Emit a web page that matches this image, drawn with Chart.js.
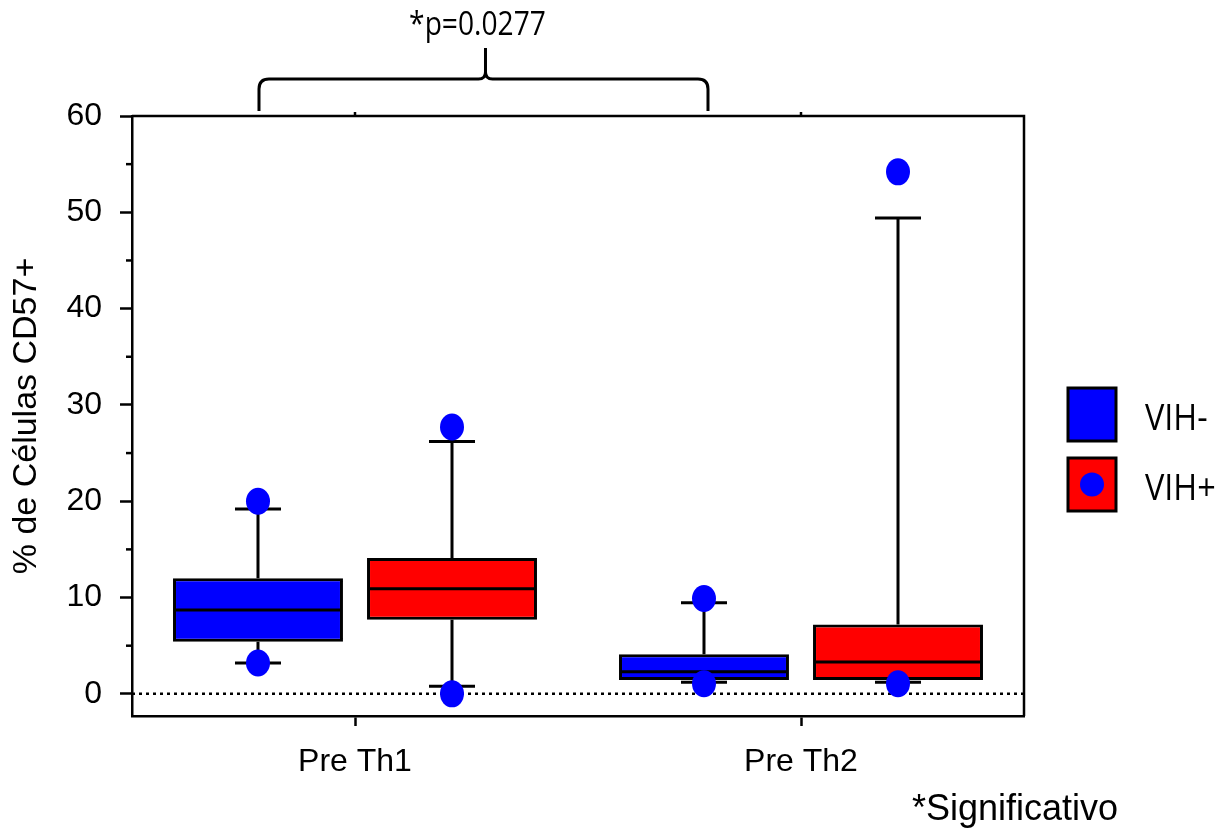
<!DOCTYPE html>
<html>
<head>
<meta charset="utf-8">
<script src="https://cdn.jsdelivr.net/npm/chart.js@4.4.1/dist/chart.umd.min.js"></script>
<style>
  html, body { margin: 0; padding: 0; background: #fff; }
  #wrap { position: relative; width: 1230px; height: 830px; }
</style>
</head>
<body>
<div id="wrap"><canvas id="boxChart" width="1230" height="830"></canvas></div>
<script>
// datos
const categories = ['Pre Th1', 'Pre Th2'];
const groupLabels = ['VIH-', 'VIH+'];

const vihNegMin = [3.2, 1.2];
const vihNegQ1 = [5.4, 1.45];
const vihNegMedian = [8.7, 2.3];
const vihNegQ3 = [12.0, 4.1];
const vihNegMax = [19.2, 9.45];
const vihNegOutliers = [[20.0, 3.2], [9.9, 1.05]];

const vihPosMin = [0.8, 1.2];
const vihPosQ1 = [7.7, 1.45];
const vihPosMedian = [10.9, 3.3];
const vihPosQ3 = [14.1, 7.2];
const vihPosMax = [26.2, 49.4];
const vihPosOutliers = [[27.7, 0], [54.2, 1.05]];

const yTicks = [0, 10, 20, 30, 40, 50, 60];
const yMinorTicks = [5, 15, 25, 35, 45, 55];
const pValueText = '*p=0.0277';
const footnoteText = '*Significativo';

const stats = [
  { min: vihNegMin, median: vihNegMedian, max: vihNegMax, outliers: vihNegOutliers },
  { min: vihPosMin, median: vihPosMedian, max: vihPosMax, outliers: vihPosOutliers }
];

const BLUE = '#0000ff';
const RED = '#ff0000';
const ARIAL = '"Liberation Sans", Arial, sans-serif';

// texto con compresión horizontal (como en la imagen original)
function squeezedText(ctx, text, x, y, sx, align) {
  ctx.save();
  ctx.translate(x, y);
  ctx.scale(sx, 1);
  ctx.textAlign = align;
  ctx.fillText(text, 0, 0);
  ctx.restore();
}

const boxPlugin = {
  id: 'boxWhiskers',
  beforeDatasetsDraw(chart) {
    const { ctx, chartArea, scales: { y } } = chart;
    ctx.save();
    // linea punteada en cero
    ctx.strokeStyle = '#000';
    ctx.lineWidth = 2.5;
    ctx.setLineDash([3, 4]);
    ctx.beginPath();
    ctx.moveTo(chartArea.left, y.getPixelForValue(0));
    ctx.lineTo(chartArea.right, y.getPixelForValue(0));
    ctx.stroke();
    ctx.setLineDash([]);

    // bigotes
    ctx.lineWidth = 3;
    stats.forEach((s, i) => {
      chart.getDatasetMeta(i).data.forEach((bar, j) => {
        const x = bar.x;
        const top = y.getPixelForValue(chart.data.datasets[i].data[j][1]);
        const bottom = y.getPixelForValue(chart.data.datasets[i].data[j][0]);
        const yMax = y.getPixelForValue(s.max[j]);
        const yMin = y.getPixelForValue(s.min[j]);
        const cap = 23;
        ctx.beginPath();
        ctx.moveTo(x, top); ctx.lineTo(x, yMax);
        ctx.moveTo(x - cap, yMax); ctx.lineTo(x + cap, yMax);
        ctx.moveTo(x, bottom); ctx.lineTo(x, yMin);
        ctx.moveTo(x - cap, yMin); ctx.lineTo(x + cap, yMin);
        ctx.stroke();
      });
    });
    ctx.restore();
  },
  afterDatasetsDraw(chart) {
    const { ctx, scales: { y } } = chart;
    ctx.save();
    stats.forEach((s, i) => {
      chart.getDatasetMeta(i).data.forEach((bar, j) => {
        const hw = bar.width / 2;
        const ym = y.getPixelForValue(s.median[j]);
        ctx.strokeStyle = '#000';
        ctx.lineWidth = 3;
        ctx.beginPath();
        ctx.moveTo(bar.x - hw + 1, ym);
        ctx.lineTo(bar.x + hw - 1, ym);
        ctx.stroke();
        ctx.fillStyle = BLUE;
        s.outliers[j].forEach(v => {
          ctx.beginPath();
          ctx.ellipse(bar.x, y.getPixelForValue(v), 12, 13.5, 0, 0, Math.PI * 2);
          ctx.fill();
        });
      });
    });
    ctx.restore();
  },
  afterDraw(chart) {
    const { ctx, chartArea, scales: { x, y } } = chart;
    ctx.save();
    ctx.strokeStyle = '#000';
    ctx.lineWidth = 2.5;
    // marco superior y derecho
    ctx.beginPath();
    ctx.moveTo(chartArea.left, chartArea.top);
    ctx.lineTo(chartArea.right, chartArea.top);
    ctx.lineTo(chartArea.right, chartArea.bottom);
    ctx.stroke();
    // marcas arriba
    categories.forEach((c, i) => {
      const px = x.getPixelForTick(i);
      ctx.beginPath();
      ctx.moveTo(px, chartArea.top - 4);
      ctx.lineTo(px, chartArea.top);
      ctx.stroke();
    });
    // marcas menores eje y
    yMinorTicks.forEach(v => {
      const py = y.getPixelForValue(v);
      ctx.beginPath();
      ctx.moveTo(chartArea.left - 6, py);
      ctx.lineTo(chartArea.left, py);
      ctx.stroke();
    });

    // llave de comparación
    const bars = chart.getDatasetMeta(0).data;
    const x1 = bars[0].x + 1, x2 = bars[1].x + 4, mid = (x1 + x2) / 2 + 2;
    const yb = 79, yEnd = 111, yPeak = 48, r = 10;
    ctx.lineWidth = 3;
    ctx.beginPath();
    ctx.moveTo(x1, yEnd);
    ctx.lineTo(x1, yb + r);
    ctx.quadraticCurveTo(x1, yb, x1 + r, yb);
    ctx.lineTo(mid - 7, yb);
    ctx.quadraticCurveTo(mid, yb, mid, yb - 7);
    ctx.lineTo(mid, yPeak);
    ctx.moveTo(mid, yb - 7);
    ctx.quadraticCurveTo(mid, yb, mid + 7, yb);
    ctx.lineTo(x2 - r, yb);
    ctx.quadraticCurveTo(x2, yb, x2, yb + r);
    ctx.lineTo(x2, yEnd);
    ctx.stroke();

    ctx.fillStyle = '#000';
    ctx.font = '32px "Open Sans", sans-serif';
    ctx.textBaseline = 'alphabetic';
    squeezedText(ctx, pValueText, mid - 8, 35, 0.88, 'center');

    // leyenda
    const lx = 1068, lw = 48, lh = 53;
    const rows = [388, 458];
    [BLUE, RED].forEach((col, i) => {
      ctx.fillStyle = col;
      ctx.fillRect(lx, rows[i], lw, lh);
      ctx.lineWidth = 3;
      ctx.strokeRect(lx, rows[i], lw, lh);
    });
    ctx.fillStyle = BLUE;
    ctx.beginPath();
    ctx.arc(lx + lw / 2, rows[1] + lh / 2, 12, 0, Math.PI * 2);
    ctx.fill();
    ctx.fillStyle = '#000';
    ctx.font = '36px "Open Sans", sans-serif';
    ctx.textBaseline = 'alphabetic';
    groupLabels.forEach((g, i) => squeezedText(ctx, g, 1145, rows[i] + 42, 0.9, 'left'));

    ctx.font = '36px ' + ARIAL;
    ctx.textBaseline = 'alphabetic';
    squeezedText(ctx, footnoteText, 912, 820, 1.0, 'left');
    ctx.restore();
  }
};

new Chart(document.getElementById('boxChart'), {
  type: 'bar',
  data: {
    labels: categories,
    datasets: [
      {
        label: groupLabels[0],
        data: categories.map((c, i) => [vihNegQ1[i], vihNegQ3[i]]),
        backgroundColor: BLUE,
        borderColor: '#000',
        borderWidth: 3,
        borderSkipped: false
      },
      {
        label: groupLabels[1],
        data: categories.map((c, i) => [vihPosQ1[i], vihPosQ3[i]]),
        backgroundColor: RED,
        borderColor: '#000',
        borderWidth: 3,
        borderSkipped: false
      }
    ]
  },
  options: {
    responsive: false,
    animation: false,
    categoryPercentage: 0.87,
    barPercentage: 0.876,
    layout: { padding: { left: 0, right: 206, top: 116, bottom: 0 } },
    plugins: {
      legend: { display: false },
      tooltip: { enabled: false }
    },
    scales: {
      x: {
        afterFit(s) { s.height = 114; },
        grid: { offset: false, drawOnChartArea: false, tickLength: 10, tickWidth: 2.5, color: '#000' },
        border: { color: '#000', width: 2.5 },
        ticks: { color: '#000', font: { family: ARIAL, size: 32 }, padding: 17 }
      },
      y: {
        min: -2.3,
        max: 60,
        afterFit(s) { s.width = 132; },
        afterBuildTicks(s) { s.ticks = yTicks.map(v => ({ value: v })); },
        grid: { drawOnChartArea: false, tickLength: 12, tickWidth: 2.5, color: '#000' },
        border: { color: '#000', width: 2.5 },
        ticks: { color: '#000', font: { family: ARIAL, size: 32 }, padding: 18 },
        title: {
          display: true,
          text: '% de Células CD57+',
          color: '#000',
          font: { family: ARIAL, size: 34 },
          padding: { top: 6, bottom: 0 }
        }
      }
    }
  },
  plugins: [boxPlugin]
});
</script>
</body>
</html>
